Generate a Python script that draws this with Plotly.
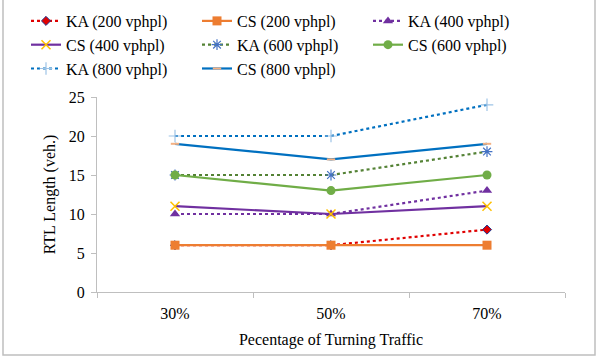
import plotly.graph_objects as go

categories = ["30%", "50%", "70%"]
series_names = ["KA (200 vphpl)", "CS (200 vphpl)", "KA (400 vphpl)", "CS (400 vphpl)",
                "KA (600 vphpl)", "CS (600 vphpl)", "KA (800 vphpl)", "CS (800 vphpl)"]
ka200 = [6, 6, 8]
cs200 = [6, 6, 6]
ka400 = [10, 10, 13]
cs400 = [11, 10, 11]
ka600 = [15, 15, 18]
cs600 = [15, 13, 15]
ka800 = [20, 20, 24]
cs800 = [19, 17, 19]
y_ticks = [0, 5, 10, 15, 20, 25]

values = [ka200, cs200, ka400, cs400, ka600, cs600, ka800, cs800]
styles = [
    dict(color="#E00000", dash="dot", symbol="diamond", msize=7, mcolor="#E00000", mline="#1F3A93", mlw=1),
    dict(color="#ED7D31", dash="solid", symbol="square", msize=9, mcolor="#ED7D31", mline="#ED7D31", mlw=0),
    dict(color="#7030A0", dash="dot", symbol="triangle-up", msize=9, mcolor="#7030A0", mline="#7030A0", mlw=0),
    dict(color="#7030A0", dash="solid", symbol="x-thin", msize=9, mcolor="#FFC000", mline="#FFC000", mlw=1.5),
    dict(color="#548235", dash="dot", symbol="asterisk", msize=9, mcolor="#4472C4", mline="#4472C4", mlw=1.2),
    dict(color="#70AD47", dash="solid", symbol="circle", msize=9, mcolor="#70AD47", mline="#70AD47", mlw=0),
    dict(color="#0070C0", dash="dot", symbol="cross-thin", msize=9, mcolor="#9DC3E6", mline="#9DC3E6", mlw=1.2),
    dict(color="#0070C0", dash="solid", symbol="line-ew", msize=6, mcolor="#F4B183", mline="#F4B183", mlw=2),
]

fig = go.Figure()
for name, vals, s in zip(series_names, values, styles):
    fig.add_trace(go.Scatter(
        x=categories, y=vals, name=name, mode="lines+markers",
        line=dict(color=s["color"], dash=s["dash"], width=2.2),
        marker=dict(symbol=s["symbol"], size=s["msize"], color=s["mcolor"],
                    line=dict(color=s["mline"], width=s["mlw"])),
    ))

font = "Liberation Serif, Times New Roman, serif"
fig.update_layout(
    width=600, height=357,
    margin=dict(l=97, r=35, t=97, b=65, autoexpand=False),
    paper_bgcolor="white", plot_bgcolor="white",
    font=dict(family=font, size=16, color="black"),
    showlegend=True,
    legend=dict(orientation="h", x=(26 - 97) / 468, y=1.477, xanchor="left", yanchor="top",
                entrywidth=126, entrywidthmode="pixels", font=dict(size=16),
                bgcolor="rgba(0,0,0,0)", itemwidth=30),
    xaxis=dict(type="category", range=[-0.5, 2.5], showline=True, linecolor="#BFBFBF",
               linewidth=1, ticks="outside", tickson="boundaries", ticklen=5,
               tickcolor="#BFBFBF", showgrid=False, zeroline=False,
               tickfont=dict(size=16), ticklabelstandoff=7,
               title=dict(text="Pecentage of Turning Traffic", font=dict(size=16), standoff=12)),
    yaxis=dict(range=[0, 25], tickvals=y_ticks, showline=True, linecolor="#BFBFBF",
               linewidth=1, ticks="outside", ticklen=5, tickcolor="#BFBFBF",
               showgrid=False, zeroline=False, tickfont=dict(size=16), ticklabelstandoff=3,
               title=dict(text="RTL Length (veh.)", font=dict(size=16), standoff=9)),
    shapes=[dict(type="rect", xref="paper", yref="paper",
                 x0=(3 - 97) / 468, x1=(595 - 97) / 468,
                 y0=(292 - 355) / 195, y1=(292 + 2) / 195,
                 line=dict(color="#BFBFBF", width=1.5), fillcolor="rgba(0,0,0,0)", layer="below")],
)

fig.write_html("out.html", config={"displayModeBar": False},
               post_script="document.body.style.margin='0';")
